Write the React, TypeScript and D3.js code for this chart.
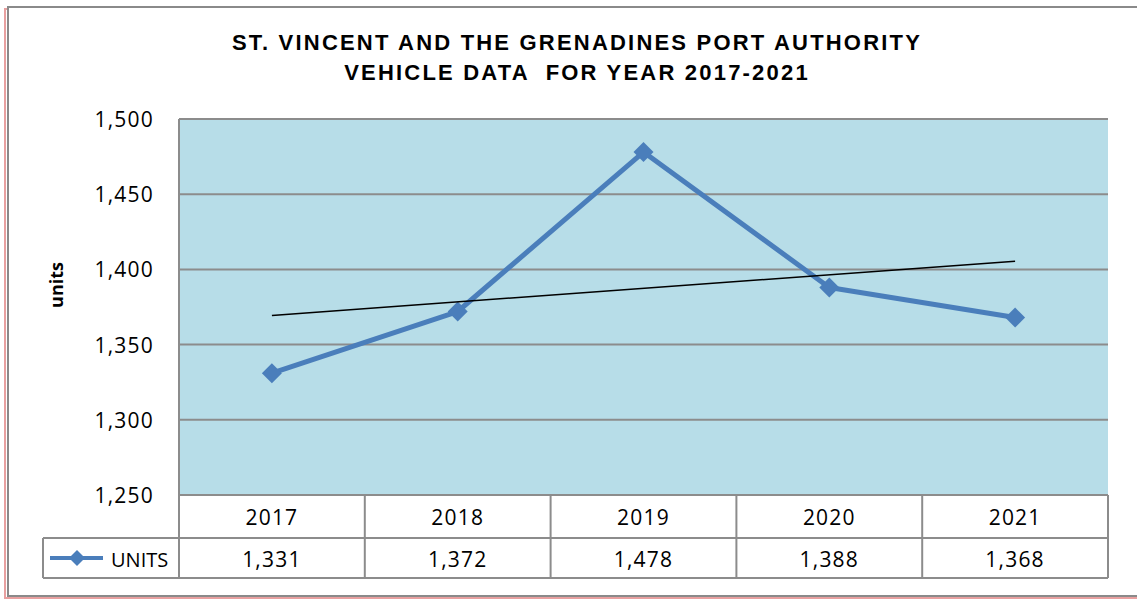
import React from "react";
import * as d3 from "d3";

const years = ["2017", "2018", "2019", "2020", "2021"];
const units = [1331, 1372, 1478, 1388, 1368];
const yTicks = [1250, 1300, 1350, 1400, 1450, 1500];
const seriesName = "UNITS";
const titleLines = ["ST. VINCENT AND THE GRENADINES PORT AUTHORITY", "VEHICLE DATA  FOR YEAR 2017-2021"];

const W = 1137;
const H = 599;
const plot = { left: 179, right: 1108, top: 119, bottom: 495 };
const rowH = [43, 40];
const legendLeft = 43;

const blue = "#4a7ebb";
const grid = "#8c8c8c";
const font = "'Open Sans', 'Noto Sans', sans-serif";

export default function App() {
  const x = d3.scaleBand().domain(years).range([plot.left, plot.right]);
  const y = d3.scaleLinear().domain([1250, 1500]).range([plot.bottom, plot.top]);
  const cx = (d: string) => (x(d) as number) + x.bandwidth() / 2;
  const fmt = d3.format(",");

  const line = d3
    .line<number>()
    .x((_, i) => cx(years[i]))
    .y((d) => y(d));

  // linear trendline, least squares on index
  const n = units.length;
  const xs = units.map((_, i) => i + 1);
  const mx = d3.mean(xs) as number;
  const my = d3.mean(units) as number;
  const slope =
    d3.sum(xs, (v, i) => (v - mx) * (units[i] - my)) / d3.sum(xs, (v) => (v - mx) ** 2);
  const trend = (v: number) => my + slope * (v - mx);

  const diamond = (px: number, py: number, r: number) =>
    `M${px},${py - r}L${px + r},${py}L${px},${py + r}L${px - r},${py}Z`;

  const row1 = plot.bottom + rowH[0];
  const row2 = row1 + rowH[1];

  const txt = { fontFamily: font, fontSize: 21, letterSpacing: 1.2 };

  return (
    <svg
      width={W}
      height={H}
      style={{ position: "absolute", left: 0, top: 0, background: "#fff" }}
    >
      {/* outer chart frame with shadow */}
      <rect x={5} y={9} width={1150} height={589} fill="none" stroke="#e8a0a0" strokeWidth={2} />
      <rect x={8} y={7} width={1150} height={589} fill="#fff" stroke="#8a8a8a" strokeWidth={2} />

      {titleLines.map((t, i) => (
        <text
          key={i}
          x={577}
          y={50 + i * 30}
          textAnchor="middle"
          fontFamily="'Liberation Sans', Arial, sans-serif"
          fontWeight="bold"
          fontSize={22}
          letterSpacing={2.2}
          style={{ whiteSpace: "pre" }}
        >
          {t}
        </text>
      ))}

      {/* plot area */}
      <rect
        x={plot.left}
        y={plot.top}
        width={plot.right - plot.left}
        height={plot.bottom - plot.top}
        fill="#b7dde8"
      />
      {yTicks.map((t) => (
        <g key={t}>
          <line x1={plot.left} x2={plot.right} y1={y(t)} y2={y(t)} stroke={grid} strokeWidth={2} />
          <text x={154} y={y(t) + 8} textAnchor="end" fill="#000" {...txt}>
            {fmt(t)}
          </text>
        </g>
      ))}
      <line x1={plot.left} x2={plot.left} y1={plot.top} y2={row2} stroke={grid} strokeWidth={2} />

      <text
        transform={`translate(63,285) rotate(-90)`}
        textAnchor="middle"
        fontFamily={font}
        fontWeight="bold"
        fontSize={18}
      >
        units
      </text>

      {/* data table */}
      <line x1={legendLeft} x2={plot.right} y1={row1} y2={row1} stroke={grid} strokeWidth={2} />
      <line x1={legendLeft} x2={plot.right} y1={row2} y2={row2} stroke={grid} strokeWidth={2} />
      <line x1={legendLeft} x2={legendLeft} y1={row1} y2={row2} stroke={grid} strokeWidth={2} />
      {years.map((yr, i) => (
        <g key={yr}>
          <line
            x1={(x(yr) as number) + x.bandwidth()}
            x2={(x(yr) as number) + x.bandwidth()}
            y1={plot.bottom}
            y2={row2}
            stroke={grid}
            strokeWidth={2}
          />
          <text x={cx(yr)} y={plot.bottom + 30} textAnchor="middle" {...txt}>
            {yr}
          </text>
          <text x={cx(yr)} y={row1 + 29} textAnchor="middle" {...txt}>
            {fmt(units[i])}
          </text>
        </g>
      ))}
      <line x1={50} x2={103} y1={row1 + 20} y2={row1 + 20} stroke={blue} strokeWidth={4} />
      <path d={diamond(77, row1 + 20, 8)} fill={blue} />
      <text x={111} y={row1 + 29} fontFamily={font} fontSize={20}>
        {seriesName}
      </text>

      {/* series */}
      <path d={line(units) as string} fill="none" stroke={blue} strokeWidth={5} strokeLinejoin="round" />
      {units.map((v, i) => (
        <path key={i} d={diamond(cx(years[i]), y(v), 10)} fill={blue} />
      ))}

      {/* trendline */}
      <line
        x1={cx(years[0])}
        x2={cx(years[n - 1])}
        y1={y(trend(1))}
        y2={y(trend(n))}
        stroke="#000"
        strokeWidth={1.5}
      />
    </svg>
  );
}
